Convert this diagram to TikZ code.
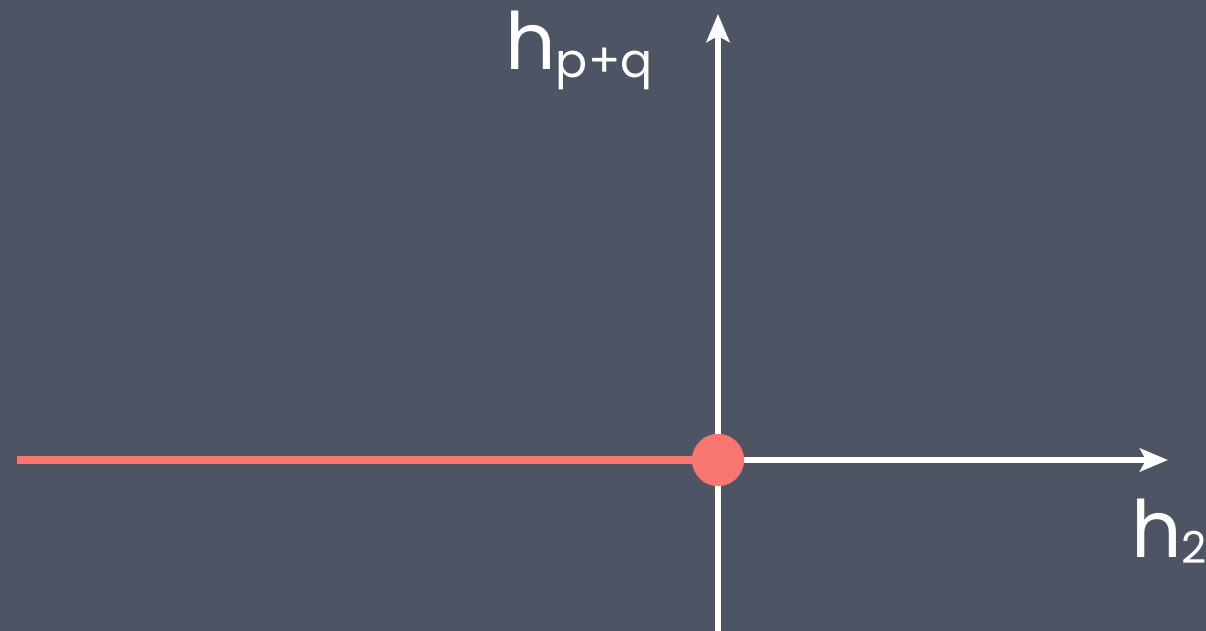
\documentclass[tikz,border=0pt]{standalone}
\usepackage{fontspec}
\setmainfont{Poppins}
\usetikzlibrary{arrows.meta}
\definecolor{Slate}{RGB}{77, 84, 99}
\definecolor{Salmon}{RGB}{248, 118, 112}
\definecolor{Chalk}{RGB}{255, 255, 255}

\begin{document}
\begin{tikzpicture}[
    axis/.style={Chalk, line width=3.4pt, -{Stealth[length=0.56cm, width=0.46cm, inset=0.12cm]}},
    halfline/.style={Salmon, line width=4pt},
    label/.style={Chalk, inner sep=0pt, anchor=base west}
]

% Board
\fill[Slate] (0,0) rectangle (24.12,12.62);
\useasboundingbox (0,0) rectangle (24.12,12.62);

% Axes ends
\coordinate (bottom) at (14.36,0);
\coordinate (top) at (14.36,12.34);
\coordinate (left) at (0.34,3.42);
\coordinate (right) at (23.36,3.42);

% Origin point
\node[circle, fill=Salmon, minimum size=1.04cm, inner sep=0pt] (origin) at (14.36,3.42) {};

% Vertical axis
\draw[axis] (bottom) -- (top);

% Horizontal axis
\draw[axis] (origin.east) -- (right);

% Red half line
\draw[halfline] (left) -- (origin.west);

% Dot again on top
\node[circle, fill=Salmon, minimum size=1.04cm, inner sep=0pt] at (origin) {};

% Labels
\node[label] (hpq) at (10.1,11.22) {\fontsize{45}{45}\selectfont h\raisebox{-4pt}{\fontsize{27}{27}\selectfont p+q}};
\node[label] (htwo) at (22.62,1.46) {\fontsize{45}{45}\selectfont h\raisebox{-3pt}{\fontsize{25}{25}\selectfont 2}};

\end{tikzpicture}
\end{document}
